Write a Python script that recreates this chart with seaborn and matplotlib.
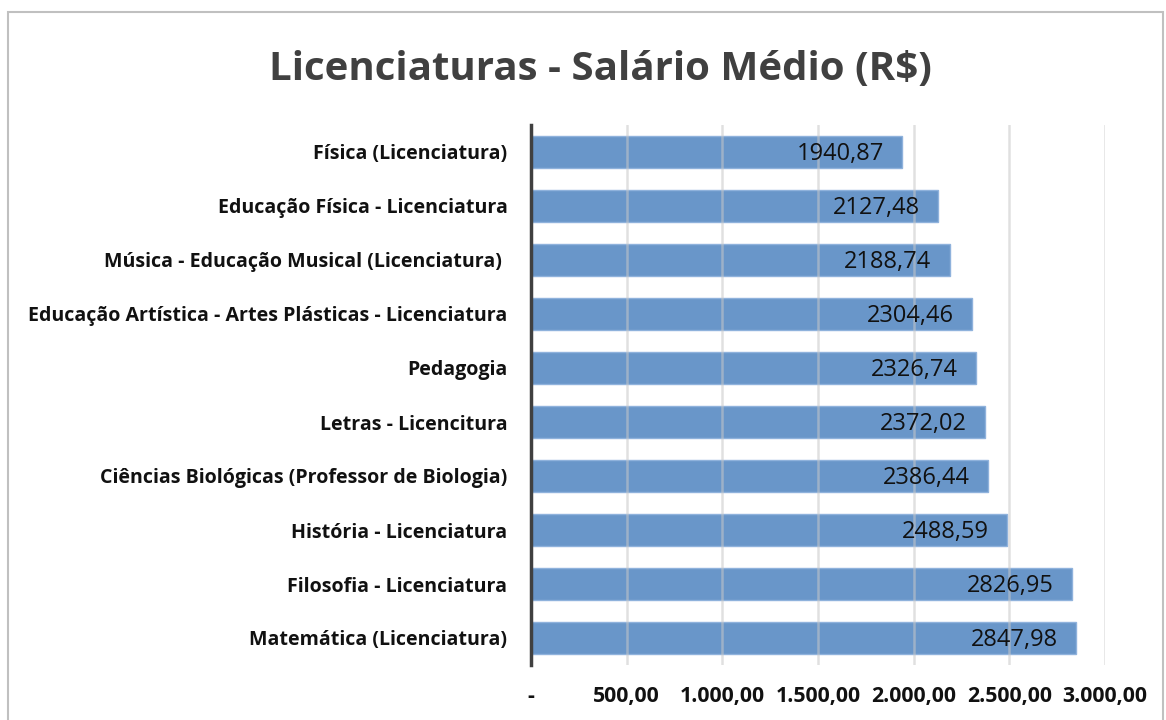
import matplotlib.pyplot as plt
import seaborn as sns
import pandas as pd
from matplotlib.patches import Rectangle

cursos = [
    "Física (Licenciatura)",
    "Educação Física - Licenciatura",
    "Música - Educação Musical (Licenciatura) ",
    "Educação Artística - Artes Plásticas - Licenciatura",
    "Pedagogia",
    "Letras - Licencitura",
    "Ciências Biológicas (Professor de Biologia)",
    "História - Licenciatura",
    "Filosofia - Licenciatura",
    "Matemática (Licenciatura)",
]
salarios = [1940.87, 2127.48, 2188.74, 2304.46, 2326.74,
            2372.02, 2386.44, 2488.59, 2826.95, 2847.98]
ticks = [0, 500, 1000, 1500, 2000, 2500, 3000]
tick_labels = ["-", "500,00", "1.000,00", "1.500,00", "2.000,00", "2.500,00", "3.000,00"]

df = pd.DataFrame({"curso": cursos, "salario": salarios})

sns.set_theme(style="white")
plt.rcParams["font.family"] = ["Open Sans", "DejaVu Sans"]

fig = plt.figure(figsize=(11.66, 7.2), dpi=100)
ax = fig.add_axes([531 / 1166, 1 - 665 / 720, (1105 - 531) / 1166, (665 - 125) / 720])

sns.barplot(data=df, x="salario", y="curso", orient="h", color="#6996c9",
            width=0.6, edgecolor="#8fb2dc", linewidth=1, saturation=1, ax=ax)

ax.set_xlim(0, 3000)
ax.set_ylim(9.5, -0.5)
ax.set_xticks(ticks)
ax.set_xticklabels(tick_labels, fontsize=15.3, fontweight="bold", color="#111111")
ax.tick_params(axis="x", pad=15, length=0)
ax.tick_params(axis="y", pad=17, length=0)
for lbl in ax.get_yticklabels():
    lbl.set_fontsize(14.1)
    lbl.set_fontweight("bold")
    lbl.set_color("#111111")
ax.set_xlabel("")
ax.set_ylabel("")

for x in ticks[1:]:
    ax.axvline(x, color="#c8c8c8", lw=1.8, alpha=0.55, zorder=3)

for i, v in enumerate(salarios):
    ax.text(v - 95, i + 0.03, f"{v:.2f}".replace(".", ","), ha="right", va="center",
            fontsize=17, color="#111111", zorder=4)

for s in ["top", "right", "bottom"]:
    ax.spines[s].set_visible(False)
ax.spines["left"].set_color("#404040")
ax.spines["left"].set_linewidth(2.5)
ax.spines["left"].set_zorder(5)

fig.text(600 / 1166, 1 - 70 / 720, "Licenciaturas - Salário Médio (R$)",
         ha="center", va="center", fontsize=29, fontweight="bold", color="#404040")

fig.patches.append(Rectangle((8 / 1166, -0.05), 1155 / 1166, 1 - 12 / 720 + 0.05,
                             transform=fig.transFigure, fill=False,
                             edgecolor="#c0c0c0", lw=1.5))

fig.savefig("out.png", dpi=100)
